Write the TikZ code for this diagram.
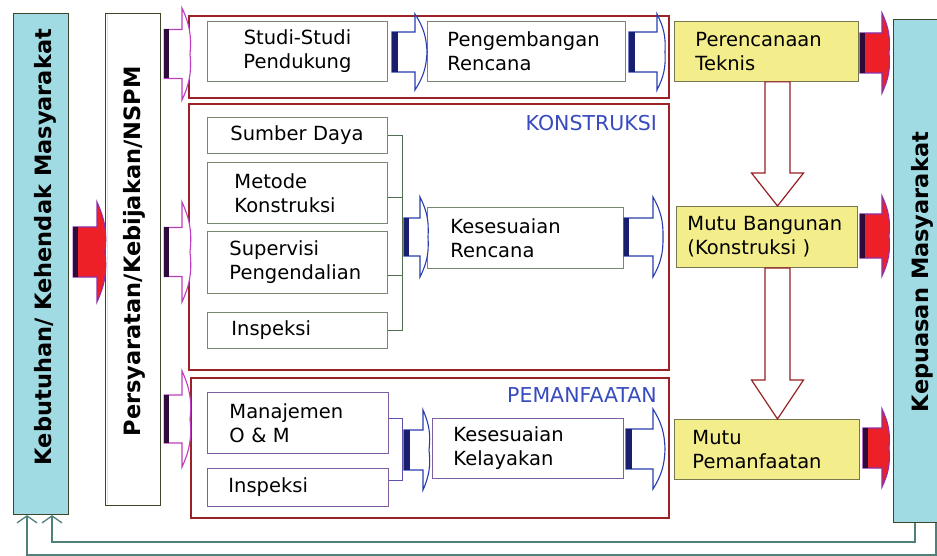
\documentclass[tikz,border=0pt]{standalone}
\usepackage{fontspec}
\setmainfont{DejaVu Sans}
\usetikzlibrary{calc,arrows.meta}

\definecolor{cyanbox}{RGB}{160,218,226}
\definecolor{yelbox}{RGB}{244,237,140}
\definecolor{grpred}{RGB}{155,35,40}
\definecolor{ibord}{RGB}{120,135,110}
\definecolor{mbord}{RGB}{125,95,160}
\definecolor{ybord}{RGB}{120,120,80}
\definecolor{bigbord}{RGB}{60,70,40}
\definecolor{lblue}{RGB}{55,75,190}
\definecolor{fbline}{RGB}{80,128,122}
\definecolor{arrred}{RGB}{236,32,38}
\definecolor{arrpurple}{RGB}{140,50,170}
\definecolor{stripdark}{RGB}{45,12,60}
\definecolor{arrmag}{RGB}{190,60,190}
\definecolor{arrblue}{RGB}{40,60,175}
\definecolor{stripnavy}{RGB}{25,30,110}
\definecolor{connline}{RGB}{80,110,80}
\definecolor{connmag}{RGB}{95,80,170}
\definecolor{downred}{RGB}{150,30,35}
\definecolor{paleyel}{RGB}{238,234,150}

\newcommand{\txtbody}{\fontsize{19.5}{24}\selectfont}
\newcommand{\txtrot}{\fontsize{22.5}{27}\selectfont\bfseries}
\newcommand{\txtlabel}{\fontsize{20.5}{24}\selectfont}

% block-arrow parameters
\pgfkeys{/ba/.cd,
  h/.store in=\bah, H/.store in=\baH, L/.store in=\baL,
  s/.store in=\bas, e/.store in=\bae, sw/.store in=\basw,
  fill/.store in=\bafill, strip/.store in=\bastrip, line/.store in=\baline,
  redtype/.style={fill=arrred, strip=stripdark, line=arrpurple},
  whitetype/.style={fill=white, strip=stripdark, line=arrmag},
  bluetype/.style={fill=white, strip=stripnavy, line=arrblue},
  h=20, H=40, L=8, s=3, e=0, sw=5,
  fill=white, strip=black, line=black}

% block arrow from #2.east to #3.west at height #4
\newcommand{\blockarr}[4][]{%
  \begingroup
  \pgfkeys{/ba/.cd,#1}%
  \path[fill=\bafill, draw=\baline, line width=1.1pt]
    let \p1=(#2.east), \p2=(#3.west), \p3=(0,#4) in
    ({\x1+\bas*1pt}, {\y3+\bah*1pt})
    -- ({\x2+(\bae)*1pt-\baL*1pt}, {\y3+\bah*1pt})
    -- ({\x2+(\bae)*1pt-\baL*1pt}, {\y3+\baH*1pt})
    to[bend left=15] ({\x2+(\bae)*1pt}, \y3)
    to[bend left=15] ({\x2+(\bae)*1pt-\baL*1pt}, {\y3-\baH*1pt})
    -- ({\x2+(\bae)*1pt-\baL*1pt}, {\y3-\bah*1pt})
    -- ({\x1+\bas*1pt}, {\y3-\bah*1pt}) -- cycle;
  \fill[\bastrip]
    let \p1=(#2.east), \p3=(0,#4) in
    ({\x1+\bas*1pt}, {\y3+\bah*1pt}) rectangle ({\x1+\bas*1pt+\basw*1pt}, {\y3-\bah*1pt});
  \endgroup}

% hollow downward arrow from #1.south to #2.north at x=#3, head length #4
\newcommand{\downarr}[4]{%
  \path[draw=downred, fill=white, line width=1.2pt]
    let \p1=(#1.south), \p2=(#2.north), \p3=(#3,0) in
    ({\x3-12.5pt}, \y1) -- ({\x3-12.5pt}, {\y2+#4pt}) -- ({\x3-26pt}, {\y2+#4pt})
    -- (\x3, \y2) -- ({\x3+26pt}, {\y2+#4pt}) -- ({\x3+12.5pt}, {\y2+#4pt})
    -- ({\x3+12.5pt}, \y1) -- cycle;}

\begin{document}
\begin{tikzpicture}[x=1pt,y=-1pt,
  bigbox/.style={anchor=north west, draw=bigbord, line width=1.1pt, inner sep=0pt},
  grp/.style={anchor=north west, draw=grpred, line width=2pt, inner sep=0pt},
  ibox/.style={anchor=north west, draw=ibord, line width=0.9pt, fill=white,
    inner ysep=0pt, align=left, font=\txtbody},
  mbox/.style={ibox, draw=mbord},
  ybox/.style={ibox, draw=ybord, fill=yelbox},
  glabel/.style={anchor=east, text=lblue, font=\txtlabel, inner sep=0pt},
  rot/.style={rotate=90, font=\txtrot, inner sep=0pt},
  conn/.style={draw=connline, line width=1pt},
  connm/.style={draw=connmag, line width=1pt},
  fb/.style={draw=fbline, line width=1.3pt}]

\useasboundingbox (0,0) rectangle (937,556);
\fill[white] (0,0) rectangle (937,556);

% side columns
\node[bigbox, fill=cyanbox, minimum width=55, minimum height=501] (need) at (13,13) {};
\node[bigbox, fill=white, minimum width=55, minimum height=492] (pers) at (105,13) {};
\draw[paleyel, line width=1.5pt] ([xshift=2.5pt,yshift=-1pt]pers.north west) -- ([xshift=2.5pt,yshift=1pt]pers.south west);
\node[bigbox, fill=cyanbox, minimum width=52, minimum height=503] (satis) at (893,19) {};

% stage groups
\node[grp, minimum width=480, minimum height=82] (G1) at (188,15) {};
\node[grp, minimum width=480, minimum height=266] (G2) at (188,103) {};
\node[grp, minimum width=478, minimum height=140] (G3) at (190,377) {};
\node[glabel] (lk) at (657,123) {KONSTRUKSI};
\node[glabel] (lp) at (657,395) {PEMANFAATAN};

% planning stage
\node[ibox, minimum width=180, minimum height=60, text width=170, inner xsep=5, align=center] (s1) at (207,21) {Studi-Studi\\Pendukung};
\node[ibox, minimum width=198, minimum height=60, text width=158, inner xsep=20] (s2) at (427,21) {Pengembangan\\Rencana};

% construction stage
\node[ibox, minimum width=180, minimum height=36, text width=134, inner xsep=23] (k1) at (207,117) {Sumber Daya};
\node[ibox, minimum width=180, minimum height=61, text width=126, inner xsep=27] (k2) at (207,162) {Metode\\Konstruksi};
\node[ibox, minimum width=180, minimum height=62, text width=136, inner xsep=22] (k3) at (207,231) {Supervisi\\Pengendalian};
\node[ibox, minimum width=180, minimum height=36, text width=132, inner xsep=24] (k4) at (207,312) {Inspeksi};
\node[ibox, minimum width=196, minimum height=61, text width=150, inner xsep=23] (k5) at (427,207) {Kesesuaian\\Rencana};

% utilisation stage
\node[mbox, minimum width=181, minimum height=61, text width=137, inner xsep=22] (m1) at (207,392) {Manajemen\\O \& M};
\node[mbox, minimum width=181, minimum height=38, text width=139, inner xsep=21] (m2) at (207,468) {Inspeksi};
\node[mbox, minimum width=191, minimum height=60, text width=149, inner xsep=21] (m3) at (432,418) {Kesesuaian\\Kelayakan};

% quality outcomes
\node[ybox, minimum width=184, minimum height=60, text width=142, inner xsep=21] (p1) at (674,21) {Perencanaan\\Teknis};
\node[ybox, minimum width=181, minimum height=61, text width=159, inner xsep=11] (p2) at (676,206) {Mutu Bangunan\\(Konstruksi )};
\node[ybox, minimum width=185, minimum height=60, text width=149, inner xsep=18] (p3) at (674,419) {Mutu\\Pemanfaatan};

% tree connectors
\coordinate (kbar) at (402,0);
\coordinate (kj2) at ([yshift=-4.5pt]k2.east);
\coordinate (kj3) at ([yshift=-13pt]k3.east);
\draw[conn] (k1.east) -- (k1.east -| kbar) -- (k4.east -| kbar) -- (k4.east);
\draw[conn] (kj2) -- (kj2 -| kbar);
\draw[conn] (kj3) -- (kj3 -| kbar);
\coordinate (mj1) at ([yshift=4.5pt]m1.east);
\coordinate (mj2) at ([yshift=7pt]m2.east);
\draw[connm] (mj1) -- (mj1 -| kbar) -- (mj2 -| kbar) -- (mj2);

% block arrows
\blockarr[redtype, h=25, H=50, L=8, s=4, e=0]{need}{pers}{252}
\blockarr[whitetype, h=24.5, H=46, L=8, s=3, e=2]{pers}{G1}{54}
\blockarr[whitetype, h=24.5, H=50, L=8, s=3, e=2]{pers}{G2}{252}
\blockarr[whitetype, h=24, H=48, L=8, s=3, e=0]{pers}{G3}{419}
\blockarr[bluetype, h=20, H=38, L=12, s=4, e=0, sw=6]{s1}{s2}{52}
\blockarr[bluetype, h=20, H=38, L=8, s=3, e=-9, sw=6]{s2}{p1}{52}
\blockarr[bluetype, h=19, H=40, L=8, s=16, e=1, sw=5]{k2}{k5}{237}
\blockarr[bluetype, h=19, H=40, L=10, s=0, e=-13, sw=5]{k5}{p2}{237}
\blockarr[bluetype, h=20, H=40, L=6, s=15, e=-3, sw=6]{m1}{m3}{450}
\blockarr[bluetype, h=20, H=40, L=12, s=2, e=-9, sw=6]{m3}{p3}{449}
\blockarr[redtype, h=20, H=40, L=7, s=1, e=-4]{p1}{satis}{53}
\blockarr[redtype, h=22, H=40, L=7, s=2, e=-4]{p2}{satis}{236}
\blockarr[redtype, h=20, H=39, L=7, s=3, e=-4]{p3}{satis}{448}

% quality flow
\downarr{p1}{p2}{777.5}{33}
\downarr{p2}{p3}{777.5}{39}

% feedback loops
\draw[fb, -{Straight Barb[length=7pt,width=20pt]}] ([xshift=22pt]satis.south west) -- ++(0,19) -| ([xshift=39pt]need.south west);
\draw[fb, -{Straight Barb[length=7pt,width=20pt]}] ([xshift=43pt]satis.south west) -- ++(0,32) -| ([xshift=14pt]need.south west);

% column titles
\node[rot] (needt) at (45.8,247) {Kebutuhan/ Kehendak Masyarakat};
\node[rot] (perst) at (134.8,251.5) {Persyaratan/Kebijakan/NSPM};
\node[rot] (satist) at (922.3,272) {Kepuasan Masyarakat};

\end{tikzpicture}
\end{document}
